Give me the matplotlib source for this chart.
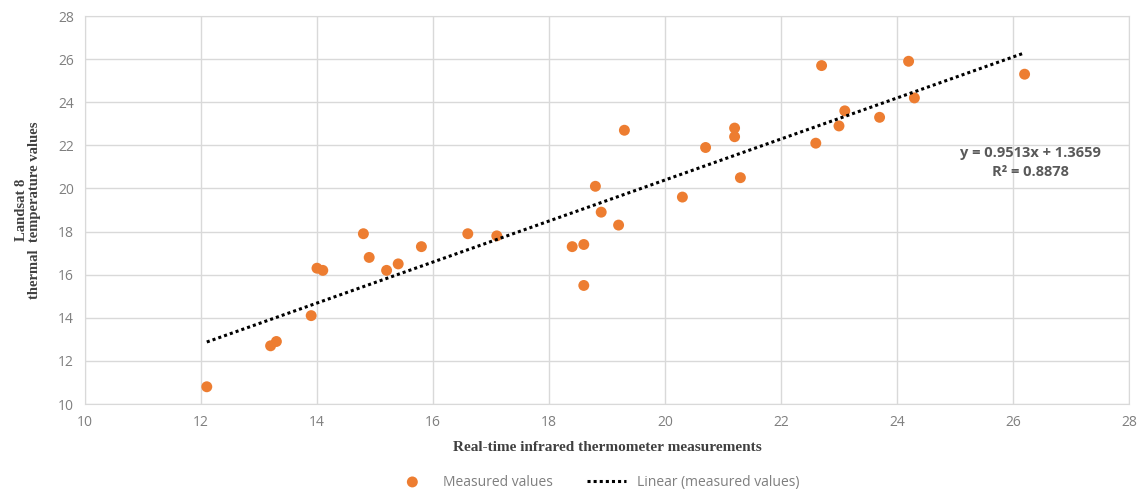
import matplotlib
matplotlib.use("Agg")
import matplotlib.pyplot as plt
import numpy as np

# Real-time infrared thermometer readings vs Landsat 8 thermal values
measured_x = [12.1, 13.2, 13.3, 13.9, 14.0, 14.1, 14.8, 14.9, 15.2, 15.4,
              15.8, 16.6, 17.1, 18.4, 18.6, 18.6, 18.8, 18.9, 19.2, 19.3,
              20.3, 20.7, 21.2, 21.2, 21.3, 22.6, 22.7, 23.0, 23.1, 23.7,
              24.2, 24.3, 26.2]
measured_y = [10.8, 12.7, 12.9, 14.1, 16.3, 16.2, 17.9, 16.8, 16.2, 16.5,
              17.3, 17.9, 17.8, 17.3, 17.4, 15.5, 20.1, 18.9, 18.3, 22.7,
              19.6, 21.9, 22.8, 22.4, 20.5, 22.1, 25.7, 22.9, 23.6, 23.3,
              25.9, 24.2, 25.3]

SLOPE     = 0.9513
INTERCEPT = 1.3659
R2        = 0.8878

x_ticks = [10, 12, 14, 16, 18, 20, 22, 24, 26, 28]
y_ticks = [10, 12, 14, 16, 18, 20, 22, 24, 26, 28]

ORANGE = "#ED7D31"
GRID   = "#d9d9d9"
TICK   = "#7f7f7f"
SANS   = ["Open Sans", "DejaVu Sans"]
SERIF  = ["Liberation Serif", "DejaVu Serif"]

fig = plt.figure(figsize=(11.47, 4.97), dpi=100)
ax = fig.add_axes([0.0741, 0.1871, 0.9102, 0.7807])

ax.scatter(measured_x, measured_y, s=62, color=ORANGE, edgecolors="none",
           zorder=3, label="Measured values")

fit_x = np.array([min(measured_x), max(measured_x)])
ax.plot(fit_x, SLOPE * fit_x + INTERCEPT, color="black", ls=(0, (1, 1)),
        lw=2.2, zorder=4, label="Linear (measured values)")

ax.text(26.3, 21.65, f"y = {SLOPE}x + {INTERCEPT}", ha="center", va="center",
        fontsize=10.5, fontweight="bold", color="#595959", family=SANS)
ax.text(26.3, 20.75, f"R² = {R2}", ha="center", va="center",
        fontsize=10.5, fontweight="bold", color="#595959", family=SANS)

ax.set_xlim(10, 28); ax.set_ylim(10, 28)
ax.set_xticks(x_ticks); ax.set_yticks(y_ticks)
ax.grid(color=GRID, lw=1.0, zorder=0)
ax.set_axisbelow(True)
for sp in ax.spines.values():
    sp.set_color(GRID)
ax.tick_params(length=0, pad=8, labelsize=10, labelcolor=TICK)
for lbl in ax.get_xticklabels() + ax.get_yticklabels():
    lbl.set_family(SANS)

ax.set_xlabel("Real-time infrared thermometer measurements", fontsize=11,
              fontweight="bold", color="#404040", family=SERIF, labelpad=8)
ax.set_ylabel("Landsat 8\nthermal  temperature values", fontsize=10.5,
              fontweight="bold", color="#404040", family=SERIF, labelpad=12,
              linespacing=1.0)

leg = fig.legend(loc="center", bbox_to_anchor=(0.52, 0.03), ncol=2,
                 frameon=False, fontsize=10, handlelength=2.8,
                 columnspacing=2.5, prop={"family": SANS, "size": 10})
for t in leg.get_texts():
    t.set_color(TICK)

fig.savefig("out.png", dpi=100)
